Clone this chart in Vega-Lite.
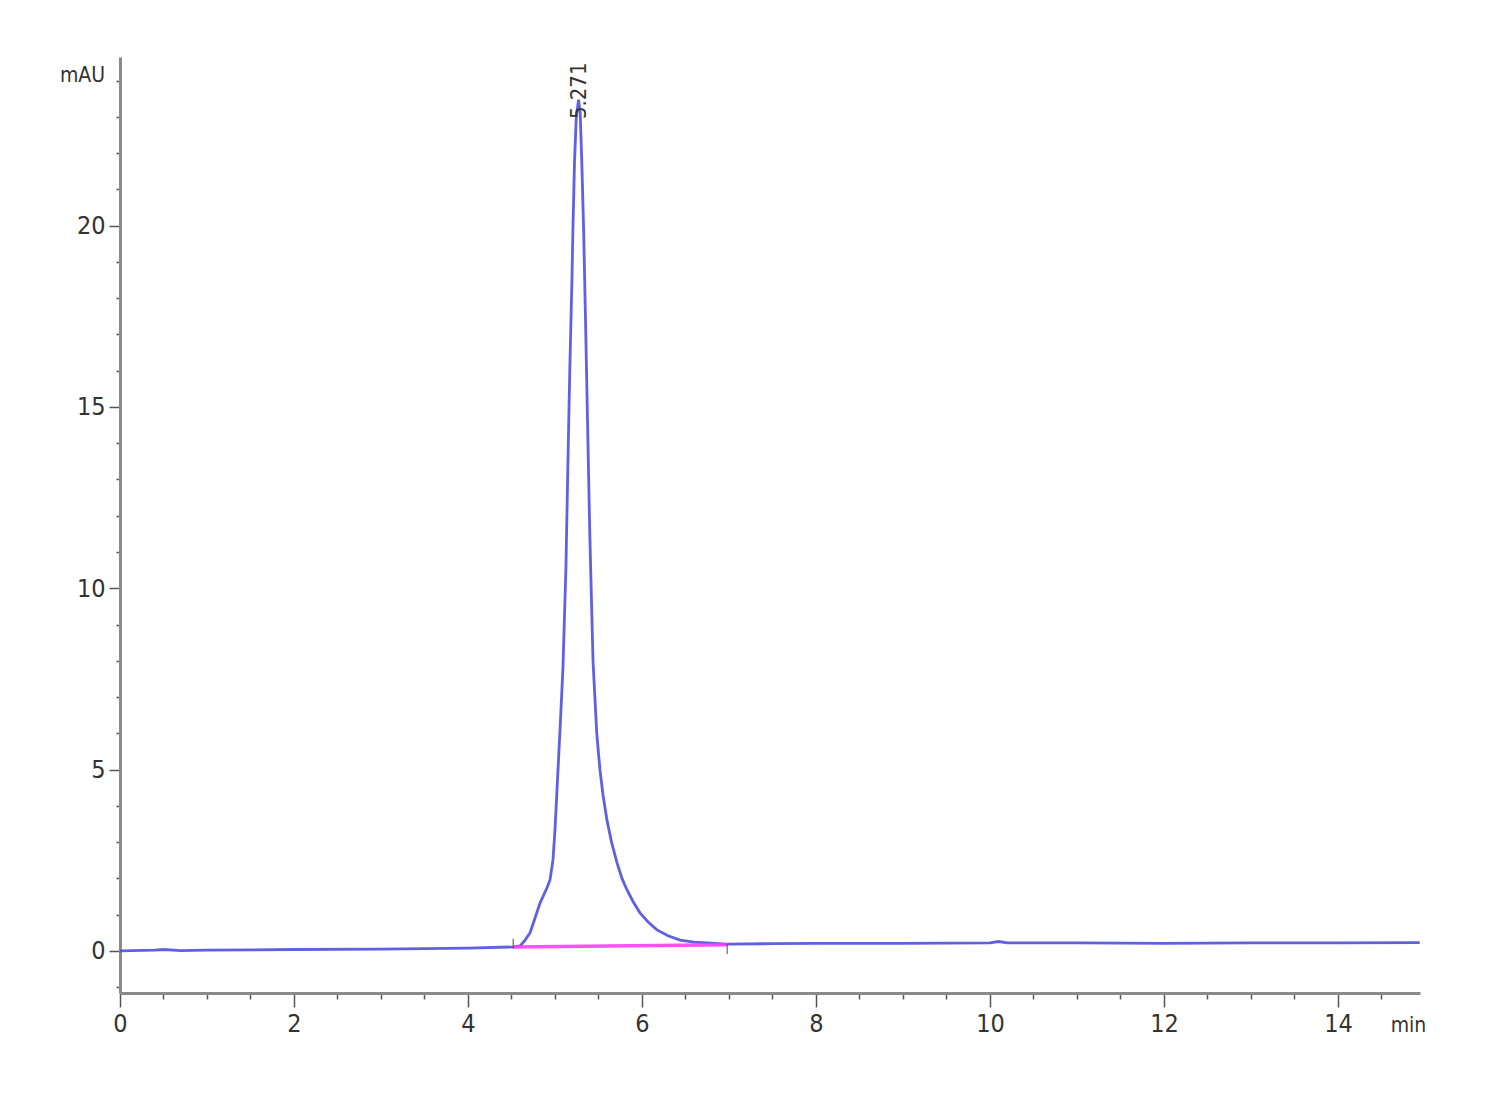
{
  "$schema": "https://vega.github.io/schema/vega-lite/v6.json",
  "autosize": "none",
  "width": 1300,
  "height": 936,
  "padding": {"left": 120, "top": 57, "right": 80, "bottom": 107},
  "background": "white",
  "config": {"view": {"stroke": null}, "font": "'DejaVu Sans Condensed', 'Liberation Sans', sans-serif"},
  "datasets": {
    "trace": [
      {"t": 0, "v": 0.0}, {"t": 0.4, "v": 0.02}, {"t": 0.5, "v": 0.04}, {"t": 0.7, "v": 0.01},
      {"t": 1.0, "v": 0.02}, {"t": 2.0, "v": 0.04}, {"t": 3.0, "v": 0.05}, {"t": 4.0, "v": 0.08},
      {"t": 4.52, "v": 0.11}, {"t": 4.6, "v": 0.14}, {"t": 4.65, "v": 0.28}, {"t": 4.713, "v": 0.5},
      {"t": 4.77, "v": 0.9}, {"t": 4.828, "v": 1.32}, {"t": 4.908, "v": 1.74}, {"t": 4.943, "v": 1.96},
      {"t": 4.977, "v": 2.51}, {"t": 5.0, "v": 3.34}, {"t": 5.023, "v": 4.44}, {"t": 5.06, "v": 6.2},
      {"t": 5.092, "v": 7.83}, {"t": 5.126, "v": 10.59}, {"t": 5.149, "v": 13.5}, {"t": 5.17, "v": 16.0},
      {"t": 5.195, "v": 18.51}, {"t": 5.207, "v": 20.0}, {"t": 5.225, "v": 21.8}, {"t": 5.245, "v": 23.0},
      {"t": 5.271, "v": 23.47}, {"t": 5.29, "v": 23.1}, {"t": 5.31, "v": 21.6}, {"t": 5.33, "v": 19.8},
      {"t": 5.35, "v": 17.5}, {"t": 5.375, "v": 14.5}, {"t": 5.4, "v": 11.5}, {"t": 5.437, "v": 8.0},
      {"t": 5.48, "v": 6.0}, {"t": 5.517, "v": 4.99}, {"t": 5.552, "v": 4.3}, {"t": 5.598, "v": 3.6},
      {"t": 5.65, "v": 3.0}, {"t": 5.713, "v": 2.43}, {"t": 5.77, "v": 2.0}, {"t": 5.828, "v": 1.68},
      {"t": 5.9, "v": 1.35}, {"t": 5.977, "v": 1.05}, {"t": 6.07, "v": 0.8}, {"t": 6.172, "v": 0.58},
      {"t": 6.3, "v": 0.42}, {"t": 6.437, "v": 0.3}, {"t": 6.6, "v": 0.24}, {"t": 6.747, "v": 0.22},
      {"t": 6.977, "v": 0.19}, {"t": 7.5, "v": 0.2}, {"t": 8.0, "v": 0.21}, {"t": 9.0, "v": 0.21},
      {"t": 10.0, "v": 0.22}, {"t": 10.1, "v": 0.26}, {"t": 10.2, "v": 0.22}, {"t": 11.0, "v": 0.22},
      {"t": 12.0, "v": 0.21}, {"t": 13.0, "v": 0.22}, {"t": 14.0, "v": 0.22}, {"t": 14.94, "v": 0.23}
    ],
    "baseline": [
      {"t": 4.52, "v": 0.11}, {"t": 6.98, "v": 0.17}
    ],
    "marks": [
      {"t": 4.52, "v": 0.2}, {"t": 6.98, "v": 0.05}
    ],
    "peaks": [
      {"t": 5.271, "v": 23.47, "label": "5.271"}
    ]
  },
  "layer": [
    {
      "data": {"name": "trace"},
      "mark": {"type": "line", "color": "#4f4fe0", "strokeWidth": 2.8, "opacity": 0.9},
      "encoding": {
        "x": {
          "field": "t", "type": "quantitative",
          "scale": {"domain": [0, 14.943], "nice": false, "zero": false},
          "axis": {
            "values": [0,0.5,1,1.5,2,2.5,3,3.5,4,4.5,5,5.5,6,6.5,7,7.5,8,8.5,9,9.5,10,10.5,11,11.5,12,12.5,13,13.5,14,14.5],
            "tickCount": 60,
            "labelExpr": "datum.value % 2 === 0 ? format(datum.value, 'd') : ''",
            "labelOverlap": false,
            "grid": false,
            "domainColor": "#8a8a8a", "domainWidth": 3,
            "tickColor": "#555555", "tickWidth": 1.5,
            "tickSize": {"condition": {"test": "datum.value % 2 === 0", "value": 14}, "value": 6},
            "labelFontSize": 25, "labelColor": "#333333",
            "labelPadding": 4, "labelFlush": false,
            "title": "min", "titleFontSize": 21,
            "titleFontWeight": "normal", "titleColor": "#333333",
            "titleX": 1288, "titleY": 32, "titleAlign": "center", "titleBaseline": "middle", "titleAnchor": null
          }
        },
        "y": {
          "field": "v", "type": "quantitative",
          "scale": {"domain": [-1.16, 24.65], "nice": false, "zero": false},
          "axis": {
            "values": [-1,0,1,2,3,4,5,6,7,8,9,10,11,12,13,14,15,16,17,18,19,20,21,22,23,24],
            "tickCount": 60,
            "labelExpr": "datum.value % 5 === 0 ? format(datum.value, 'd') : ''",
            "labelOverlap": false,
            "grid": false,
            "domainColor": "#8a8a8a", "domainWidth": 3,
            "tickColor": "#555555", "tickWidth": 1.5,
            "tickSize": {"condition": {"test": "datum.value % 5 === 0", "value": 11}, "value": 4},
            "labelFontSize": 25, "labelColor": "#333333",
            "labelPadding": 4, "labelFlush": false,
            "title": "mAU", "titleFontSize": 21,
            "titleFontWeight": "normal", "titleColor": "#333333", "titleAngle": 0,
            "titleX": -38, "titleY": 18, "titleAlign": "center", "titleBaseline": "middle", "titleAnchor": null
          }
        }
      }
    },
    {
      "data": {"name": "baseline"},
      "mark": {"type": "line", "color": "#ff3cf5", "strokeWidth": 3.5, "opacity": 0.9},
      "encoding": {
        "x": {"field": "t", "type": "quantitative"},
        "y": {"field": "v", "type": "quantitative"}
      }
    },
    {
      "data": {"name": "marks"},
      "mark": {"type": "tick", "orient": "vertical", "color": "#555555", "size": 10, "thickness": 1.5},
      "encoding": {
        "x": {"field": "t", "type": "quantitative"},
        "y": {"field": "v", "type": "quantitative"}
      }
    },
    {
      "data": {"name": "peaks"},
      "mark": {"type": "text", "angle": 270, "align": "center", "baseline": "middle", "dx": 9, "fontSize": 22, "color": "#333333"},
      "encoding": {
        "x": {"field": "t", "type": "quantitative"},
        "y": {"field": "v", "type": "quantitative"},
        "text": {"field": "label"}
      }
    }
  ]
}
